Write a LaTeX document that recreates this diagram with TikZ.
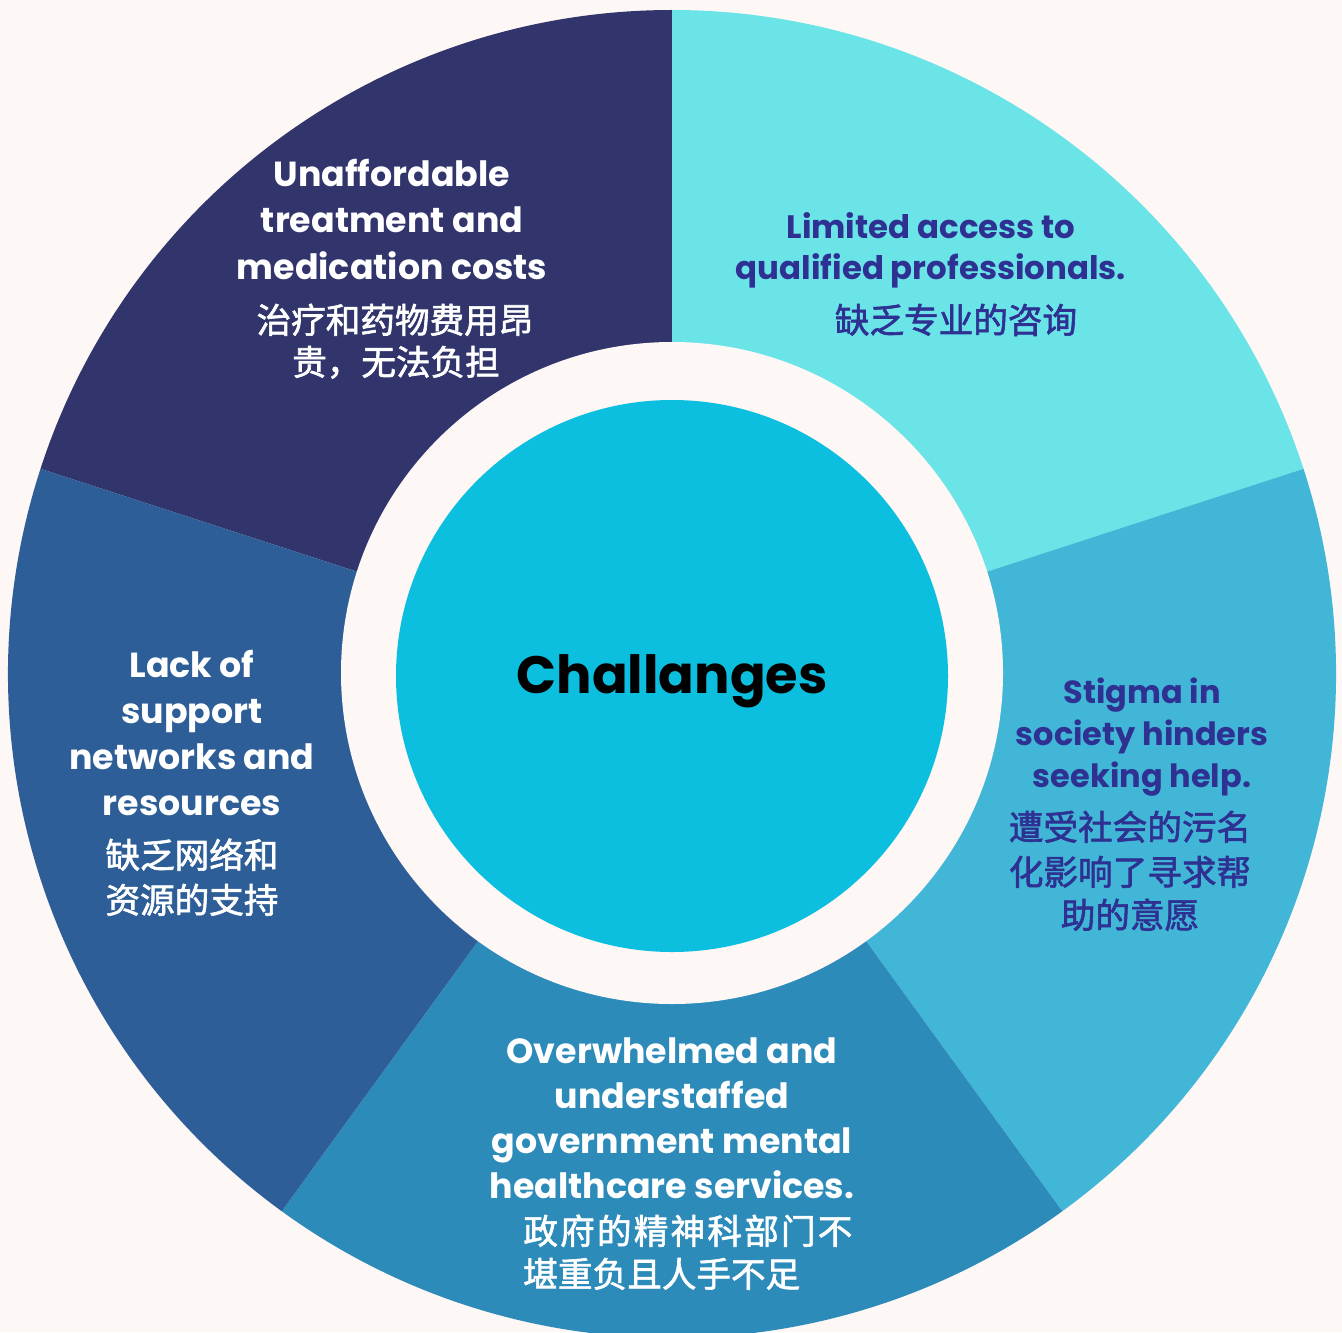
\documentclass[tikz,border=0pt]{standalone}
\usepackage{fontspec}
\setmainfont{Poppins}
\newfontfamily\cjk{Noto Sans CJK SC}[FakeBold=1.8]
\definecolor{bgc}{HTML}{FDF7F6}
\definecolor{navy}{HTML}{31356B}
\definecolor{lcyan}{HTML}{6AE4E7}
\definecolor{mblue}{HTML}{41B6D6}
\definecolor{bblue}{HTML}{2D8BBA}
\definecolor{lblue}{HTML}{2E5E97}
\definecolor{core}{HTML}{0DBFDF}
\definecolor{dtext}{HTML}{2E3192}
\tikzset{
  x=0.5pt, y=0.5pt,
  en/.style={inner sep=0pt, anchor=base, font=\bfseries\fontsize{17.4}{20}\selectfont},
  zh/.style={inner sep=0pt, anchor=base, font=\cjk\fontsize{17.3}{20}\selectfont},
  wt/.style={text=white},
  dk/.style={text=dtext},
}
\begin{document}
\begin{tikzpicture}
\useasboundingbox (0,0) rectangle (1342,-1332);
\fill[bgc] (0,0) rectangle (1342,-1332);
\coordinate (C) at (672,-674);
% sectors
\fill[navy]  (C) -- ++(90:664)  arc[start angle=90,  end angle=162, radius=664] -- cycle;
\fill[lcyan] (C) -- ++(18:664)  arc[start angle=18,  end angle=90,  radius=664] -- cycle;
\fill[mblue] (C) -- ++(-54:664) arc[start angle=-54, end angle=18,  radius=664] -- cycle;
\fill[bblue] (C) -- ++(-126:664) arc[start angle=-126, end angle=-54, radius=664] -- cycle;
\fill[lblue] (C) -- ++(162:664) arc[start angle=162, end angle=234, radius=664] -- cycle;
% inner rings
\fill[bgc] (672,-673) circle[radius=331];
\fill[core] (672,-676) circle[radius=276];
\node[inner sep=0pt, anchor=base, font=\bfseries\fontsize{26.3}{30}\selectfont] (title) at (672,-693) {Challanges};
% top-left
\node[en,wt] (tl1) at (392,-187) {Unaffordable};
\node[en,wt] (tl2) at (392,-233) {treatment and};
\node[en,wt] (tl3) at (392,-279) {medication costs};
\node[zh,wt] (tl4) at (395,-333) {治疗和药物费用昂};
\node[zh,wt] (tl5) at (396,-375) {贵，无法负担};
% top-right
\node[en,dk,font=\bfseries\fontsize{16.2}{20}\selectfont] (tr1) at (931,-238) {Limited access to};
\node[en,dk,font=\bfseries\fontsize{16.2}{20}\selectfont] (tr2) at (931,-279) {qualified professionals.};
\node[zh,dk] (tr3) at (956,-333) {缺乏专业的咨询};
% right
\node[en,dk,font=\bfseries\fontsize{16}{20}\selectfont] (r1) at (1142,-703) {Stigma in};
\node[en,dk,font=\bfseries\fontsize{16}{20}\selectfont] (r2) at (1142,-745) {society hinders};
\node[en,dk,font=\bfseries\fontsize{16}{20}\selectfont] (r3) at (1142,-787) {seeking help.};
\node[zh,dk] (r4) at (1130,-840) {遭受社会的污名};
\node[zh,dk] (r5) at (1130,-885) {化影响了寻求帮};
\node[zh,dk] (r6) at (1130,-928) {助的意愿};
% bottom
\node[en,wt] (b1) at (672,-1063) {Overwhelmed and};
\node[en,wt] (b2) at (672,-1108) {understaffed};
\node[en,wt] (b3) at (672,-1153) {government mental};
\node[en,wt] (b4) at (672,-1198) {healthcare services.};
\node[zh,wt,anchor=base west] (b5) at (523,-1244) {\makebox[164.5pt][s]{政\hfil 府\hfil 的\hfil 精\hfil 神\hfil 科\hfil 部\hfil 门\hfil 不}};
\node[zh,wt,anchor=base west] (b6) at (523,-1287) {堪重负且人手不足};
% left
\node[en,wt] (l1) at (192,-677) {Lack of};
\node[en,wt] (l2) at (192,-723) {support};
\node[en,wt] (l3) at (192,-769) {networks and};
\node[en,wt] (l4) at (192,-815) {resources};
\node[zh,wt] (l5) at (192,-868) {缺乏网络和};
\node[zh,wt] (l6) at (192,-913) {资源的支持};
\end{tikzpicture}
\end{document}
